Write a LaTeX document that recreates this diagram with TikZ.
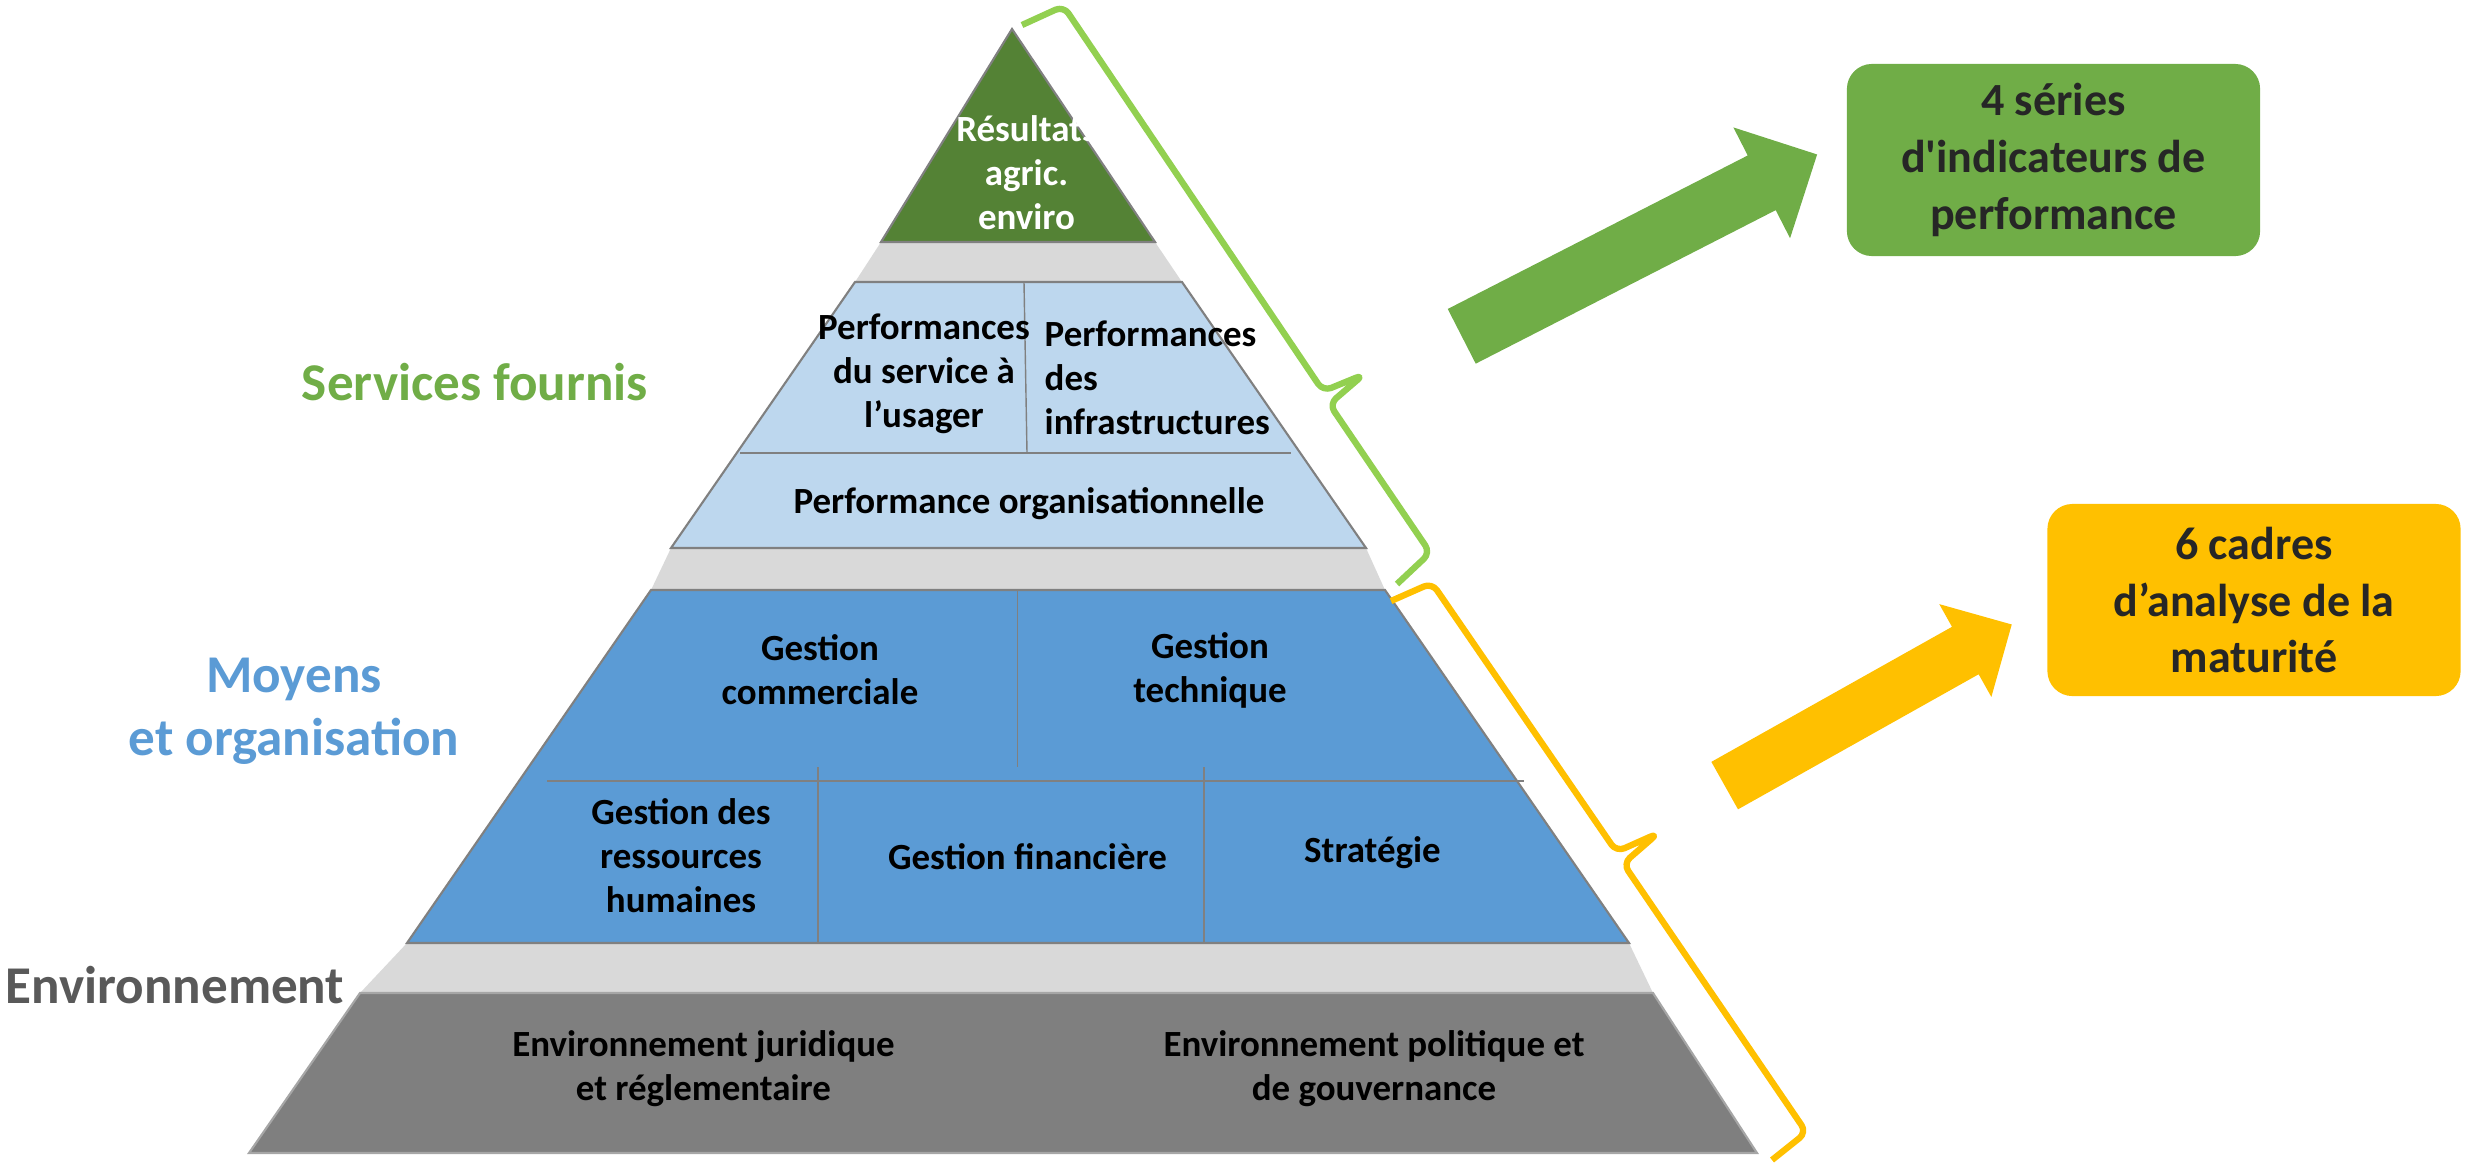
\documentclass[tikz,border=0pt]{standalone}
\usepackage{fontspec}
\newfontfamily\carlito{Carlito}
\usetikzlibrary{shapes.arrows, calc}

\definecolor{topgreen}{HTML}{548235}
\definecolor{paleblue}{HTML}{BDD7EE}
\definecolor{midblue}{HTML}{5B9BD5}
\definecolor{envgray}{HTML}{7F7F7F}
\definecolor{bandgray}{HTML}{D9D9D9}
\definecolor{edgegray}{HTML}{808080}
\definecolor{kpigreen}{HTML}{70AD47}
\definecolor{bracegreen}{HTML}{92D050}
\definecolor{gold}{HTML}{FFC000}
\definecolor{labelgray}{HTML}{595959}
\definecolor{inkdark}{HTML}{262626}

\tikzset{
  layer/.style={draw=edgegray, line width=0.6pt},
  divider/.style={draw=edgegray, line width=0.4pt},
  cell/.style={font=\carlito\bfseries\fontsize{10.5}{12.5}\selectfont, align=center, inner sep=0pt},
  sidelabel/.style={font=\carlito\bfseries\fontsize{15.1}{17.9}\selectfont, align=center, inner sep=0pt},
  kpibox/.style={rectangle, rounded corners=0.25cm, text=inkdark, align=center,
    font=\carlito\bfseries\fontsize{13.1}{16.2}\selectfont, minimum width=4.13cm, minimum height=1.92cm},
  bigarrow/.style={single arrow, inner xsep=0pt, anchor=tip, single arrow head extend=#1},
  bracket/.style={line width=1.8pt, rounded corners=2.5pt, line join=round},
}

\begin{document}
\begin{tikzpicture}[x=0.01cm, y=-0.01cm]
\useasboundingbox (0,0) rectangle (2466,1163);
% Pyramid background
\fill[bandgray] (1012,29) -- (1155,242) -- (1182,282) -- (1366,548) -- (1385,590) -- (1629,943)
  -- (1653,993) -- (1757,1153) -- (249,1153) -- (360,993) -- (407,943) -- (651,590)
  -- (671,548) -- (855,282) -- (881,242) -- cycle;
% Layers
\filldraw[layer, fill=topgreen] (1012,29) -- (1155,242) -- (881,242) -- cycle;
\filldraw[layer, fill=paleblue] (855,282) -- (1182,282) -- (1366,548) -- (671,548) -- cycle;
\filldraw[layer, fill=midblue] (651,590) -- (1385,590) -- (1629,943) -- (407,943) -- cycle;
\filldraw[layer, draw=black!35, fill=envgray] (360,993) -- (1653,993) -- (1757,1153) -- (249,1153) -- cycle;
% Cell borders
\draw[divider] (1024,282) -- (1027,453);
\draw[divider] (740,453) -- (1291,453);
\draw[divider] (1017.5,590) -- (1017.5,767);
\draw[divider] (547,781) -- (1524,781);
\draw[divider] (818,767) -- (818,943);
\draw[divider] (1204,767) -- (1204,943);
% Cell texts
\node[cell, text=white] (resultats) at (1026.5,173) {Résultats\\agric.\\enviro};
\node[cell] (usager) at (924,374) {Performances\\du service à\\l’usager};
\node[cell, align=left, anchor=west] (infra) at (1044,378) {Performances\\des\\infrastructures};
\node[cell] (orga) at (1029,504) {Performance organisationnelle};
\node[cell] (commerc) at (820,670) {Gestion\\commerciale};
\node[cell] (techn) at (1210,670) {Gestion\\technique};
\node[cell] (rh) at (681,856) {Gestion des\\ressources\\humaines};
\node[cell] (finance) at (1027.5,857) {Gestion financière};
\node[cell] (strat) at (1372.5,853) {Stratégie};
\node[cell] (juridique) at (703.5,1069) {Environnement juridique\\et réglementaire};
\node[cell] (politique) at (1374,1069) {Environnement politique et\\de gouvernance};
% Side labels
\node[sidelabel, text=kpigreen] (services) at (475,382) {Services fournis};
\node[sidelabel, text=midblue] (moyens) at (294,711) {Moyens\\et organisation};
\node[sidelabel, text=labelgray] (environ) at (175,985) {Environnement};
% Braces
\coordinate (gA) at (1022,25);
\coordinate (gB) at (1397,584);
\draw[bracket, bracegreen] (gA) -- ($(gA)!0.011!(gB)!0.45cm!90:(gB)$)
  -- ($(gA)!0.701!(gB)!0.46cm!90:(gB)$) -- ($(gA)!0.714!(gB)!0.89cm!90:(gB)$)
  -- ($(gA)!0.722!(gB)!0.44cm!90:(gB)$) -- ($(gA)!0.989!(gB)!0.45cm!90:(gB)$) -- (gB);
\coordinate (yA) at (1391,601);
\coordinate (yB) at (1772,1160);
\draw[bracket, gold] (yA) -- ($(yA)!0.012!(yB)!0.44cm!90:(yB)$)
  -- ($(yA)!0.494!(yB)!0.45cm!90:(yB)$) -- ($(yA)!0.506!(yB)!0.90cm!90:(yB)$)
  -- ($(yA)!0.514!(yB)!0.44cm!90:(yB)$) -- ($(yA)!0.995!(yB)!0.44cm!90:(yB)$) -- (yB);
% Outcome boxes
\node[kpibox, fill=kpigreen] (series) at (2053.5,160) {4 séries\\d'indicateurs de\\performance};
\node[kpibox, fill=gold] (cadres) at (2254,600) {6 cadres\\d’analyse de la\\maturité};
% Block arrows
\node[bigarrow=0.315cm, fill=kpigreen, inner ysep=0.3cm, minimum height=3.99cm, rotate=27.1] (arrowkpi) at (1818,154) {};
\node[bigarrow=0.26cm, fill=gold, inner ysep=0.265cm, minimum height=3.29cm, rotate=29.3] (arrowmat) at (2012.6,624) {};
\end{tikzpicture}
\end{document}
